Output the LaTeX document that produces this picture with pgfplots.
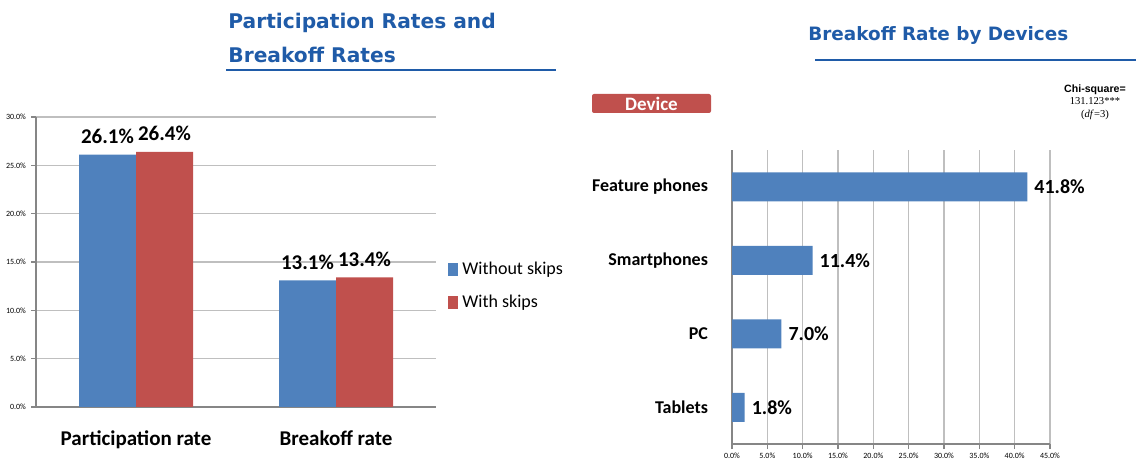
\documentclass[border=0pt]{standalone}
\usepackage{fontspec}
\setmainfont{Carlito}
\newfontfamily\titlefont{DejaVu Sans}
\newfontfamily\arialfont{Liberation Sans}
\newfontfamily\timesfont{Liberation Serif}
\usepackage{pgfplots}
\pgfplotsset{compat=1.18}
\definecolor{barblue}{HTML}{4F81BD}
\definecolor{barred}{HTML}{C0504D}
\definecolor{titleblue}{HTML}{1F5BA8}
\definecolor{gridgray}{HTML}{BFBFBF}
\definecolor{axisgray}{HTML}{868686}

\pgfplotsset{
  excel/.style={
    scale only axis,
    axis x line*=bottom, axis y line*=left,
    axis line style={-, axisgray, line width=0.6pt},
    grid style={gridgray, line width=0.6pt},
    tick align=outside,
    tick style={axisgray, line width=0.6pt},
    major tick length=2.5pt,
    /pgf/number format/assume math mode=true,
    every axis plot/.append style={draw=none},
  },
}

\begin{document}
\begin{tikzpicture}
\useasboundingbox (0,0) rectangle (568pt,230.5pt);

% titles
\node[anchor=base west, inner sep=0, text=titleblue,
      font=\titlefont\bfseries\fontsize{10.1}{12}\selectfont] at (114pt,216pt) {Participation Rates and};
\node[anchor=base west, inner sep=0, text=titleblue,
      font=\titlefont\bfseries\fontsize{10.1}{12}\selectfont] at (114pt,199pt) {Breakoff Rates};
\draw[titleblue, line width=1.2pt] (113pt,195.5pt) -- (278pt,195.5pt);

\node[anchor=base west, inner sep=0, text=titleblue,
      font=\titlefont\bfseries\fontsize{9.2}{11}\selectfont] at (404pt,210pt) {Breakoff Rate by Devices};
\draw[titleblue, line width=1.2pt] (407.5pt,200.5pt) -- (568pt,200.5pt);

% device tag
\fill[barred, rounded corners=1pt] (296pt,174pt) rectangle (355.5pt,183.5pt);
\node[text=white, font=\bfseries\fontsize{9.5}{10}\selectfont, inner sep=0] at (325.75pt,178.75pt) {Device};

% chi-square note
\node[align=center, inner sep=0, anchor=north, font=\fontsize{5.3}{6.2}\selectfont] at (547.5pt,188.5pt)
  {{\arialfont\bfseries Chi-square=}\\[0.2pt]{\timesfont 131.123***}\\[0.2pt]{\timesfont (\textit{df}=3)}};

% left chart
\begin{axis}[
  excel,
  at={(18pt,27pt)}, anchor=south west,
  width=200pt, height=145pt,
  ybar=0pt, bar width=28.5pt,
  xmin=-0.5, xmax=1.5, ymin=0, ymax=30,
  xtick={0,1}, xticklabels={Participation rate, Breakoff rate},
  major x tick style={draw=none},
  extra x ticks={-0.5,0.5,1.5}, extra x tick labels={},
  extra x tick style={major tick length=4pt, tick style={draw=axisgray}},
  xticklabel style={font=\bfseries\fontsize{10.5}{12}\selectfont, yshift=-6pt},
  ytick={0,5,...,30},
  yticklabel={\pgfmathprintnumber[fixed,fixed zerofill,precision=1]{\tick}\%},
  yticklabel style={font=\fontsize{4}{5}\selectfont, xshift=1pt},
  ymajorgrids,
  nodes near coords={\pgfmathprintnumber[fixed,fixed zerofill,precision=1]{\pgfplotspointmeta}\%},
  nodes near coords style={font=\bfseries\fontsize{10.5}{12}\selectfont, text=black, yshift=2pt},
  legend style={draw=none, fill=none, at={(rel axis cs:1.03,0.514)}, anchor=north west,
                font=\fontsize{9}{10}\selectfont, row sep=4.5pt, inner sep=0pt},
  legend cell align=left,
  legend image code/.code={\fill[#1] (0pt,-3pt) rectangle (5pt,3.5pt);},
]
\addplot[fill=barblue] coordinates {(0,26.1) (1,13.1)};
\addplot[fill=barred] coordinates {(0,26.4) (1,13.4)};
\legend{Without skips, With skips}
\end{axis}

% right chart
\begin{axis}[
  excel,
  at={(366pt,8.5pt)}, anchor=south west,
  width=159pt, height=147pt,
  xbar, bar width=14.5pt,
  xmin=0, xmax=45, ymin=-0.5, ymax=3.5,
  xtick={0,5,...,45},
  xticklabel={\pgfmathprintnumber[fixed,fixed zerofill,precision=1]{\tick}\%},
  xticklabel style={font=\fontsize{4}{5}\selectfont, yshift=1.5pt},
  xmajorgrids,
  ytick={0,1,2,3}, yticklabels={Tablets,PC,Smartphones,Feature phones},
  major y tick style={draw=none},
  extra y ticks={-0.5,0.5,1.5,2.5,3.5}, extra y tick labels={},
  extra y tick style={major tick length=3pt, tick style={draw=axisgray}},
  yticklabel style={font=\bfseries\fontsize{9}{10}\selectfont, xshift=-6pt},
  nodes near coords={\pgfmathprintnumber[fixed,fixed zerofill,precision=1]{\pgfplotspointmeta}\%},
  nodes near coords style={font=\bfseries\fontsize{10}{12}\selectfont, text=black},
]
\addplot[fill=barblue] coordinates {(1.8,0) (7.0,1) (11.4,2) (41.8,3)};
\end{axis}
\end{tikzpicture}
\end{document}
